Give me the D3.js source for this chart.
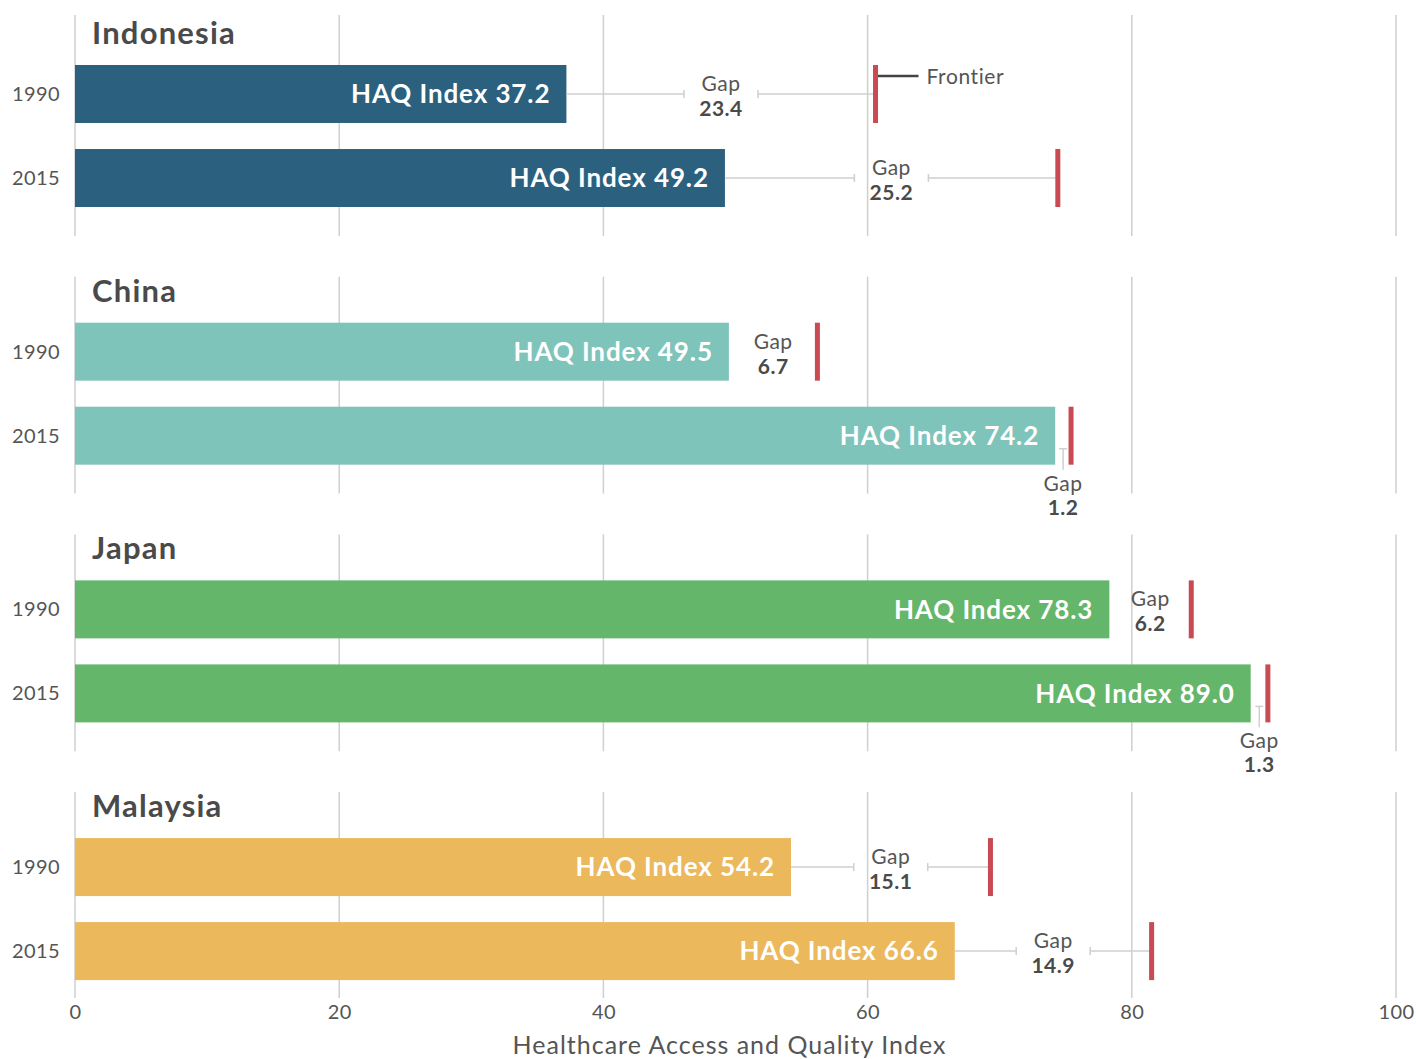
<!DOCTYPE html>
<html>
<head>
<meta charset="utf-8">
<script src="https://cdn.jsdelivr.net/npm/d3@7"></script>
<style>
  html, body { margin: 0; padding: 0; background: #fff; }
  svg { display: block; font-family: Lato, "Open Sans", sans-serif; }
</style>
</head>
<body>
<svg id="chart" width="1416" height="1059"></svg>
<script>
// ---- data ----
const countries = ["Indonesia", "China", "Japan", "Malaysia"];
const years = ["1990", "2015"];
const haq1990 = [37.2, 49.5, 78.3, 54.2];
const haq2015 = [49.2, 74.2, 89.0, 66.6];
const gap1990 = [23.4, 6.7, 6.2, 15.1];
const gap2015 = [25.2, 1.2, 1.3, 14.9];
const countryColors = ["#2b617f", "#7fc4ba", "#64b66a", "#ebb85c"];
const xTicks = [0, 20, 40, 60, 80, 100];
const xTitle = "Healthcare Access and Quality Index";

// ---- layout ----
const svg = d3.select("#chart");
const x = d3.scaleLinear().domain([0, 100]).range([75, 1396]);
const panel = d3.scaleBand().domain(countries).range([15, 1003]).paddingInner(0.166).paddingOuter(0);
const barOffset = 50, barsSpan = 142;
const inner = d3.scaleBand().domain(years).range([barOffset, barOffset + barsSpan]).paddingInner(0.31).paddingOuter(0);
const bh = inner.bandwidth();
const red = "#c94a52", grid = "#cfcfcf", textCol = "#555", darkText = "#4a4a4a";

const rows = [];
countries.forEach((c, i) => {
  rows.push({country: c, year: years[0], haq: haq1990[i], gap: gap1990[i], color: countryColors[i]});
  rows.push({country: c, year: years[1], haq: haq2015[i], gap: gap2015[i], color: countryColors[i]});
});

// panels
const panels = svg.selectAll("g.panel").data(countries).join("g")
  .attr("class", "panel")
  .attr("transform", d => `translate(0,${panel(d)})`);

panels.each(function(c, i) {
  const g = d3.select(this);
  const bottom = panel.bandwidth() + (i === countries.length - 1 ? -5 : 6);
  g.selectAll("line.grid").data(xTicks).join("line")
    .attr("class", "grid")
    .attr("x1", d => x(d)).attr("x2", d => x(d))
    .attr("y1", i === 0 ? 0 : 4).attr("y2", bottom)
    .attr("stroke", grid).attr("stroke-width", 1.5);
  g.append("text")
    .attr("x", 92).attr("y", barOffset - 21)
    .attr("font-size", 31).attr("font-weight", 700).attr("letter-spacing", 1.2)
    .attr("fill", darkText)
    .text(c);
});

// bars & annotations
rows.forEach(r => {
  const g = svg.append("g").attr("transform", `translate(0,${panel(r.country) + inner(r.year)})`);
  const x0 = x(0), x1 = x(r.haq), xf = x(r.haq + r.gap);
  const cy = bh / 2;
  g.append("text")
    .attr("x", 60).attr("y", cy).attr("dy", "0.35em")
    .attr("text-anchor", "end").attr("font-size", 20).attr("letter-spacing", 0.4).attr("fill", textCol)
    .text(r.year);
  g.append("rect").attr("x", x0).attr("y", 0).attr("width", x1 - x0).attr("height", bh).attr("fill", r.color);
  g.append("text")
    .attr("x", x1 - 16).attr("y", cy).attr("dy", "0.36em")
    .attr("text-anchor", "end").attr("font-size", 26).attr("font-weight", 700).attr("letter-spacing", 0.9)
    .attr("fill", "#fff")
    .text("HAQ Index " + r.haq.toFixed(1));

  const gw = xf - x1;
  const mid = (x1 + xf) / 2;
  const gapText = (sel, yy) => sel.append("text").attr("x", mid).attr("y", yy).attr("text-anchor", "middle")
      .attr("font-size", 21).attr("letter-spacing", 0.5).attr("fill", textCol).text("Gap");
  const valText = (sel, yy) => sel.append("text").attr("x", mid).attr("y", yy).attr("text-anchor", "middle")
      .attr("font-size", 21).attr("font-weight", 700).attr("letter-spacing", 0.5).attr("fill", darkText).text(r.gap.toFixed(1));
  if (gw < 40) {
    g.append("line").attr("x1", mid).attr("x2", mid).attr("y1", cy + 13).attr("y2", bh + 5)
      .attr("stroke", grid).attr("stroke-width", 1.5);
    g.append("line").attr("x1", mid - 4).attr("x2", mid + 4).attr("y1", cy + 13).attr("y2", cy + 13)
      .attr("stroke", grid).attr("stroke-width", 1.5);
    gapText(g, bh + 26);
    valText(g, bh + 50);
  } else {
    if (gw > 110) {
      const hw = 37;
      [[x1, mid - hw], [mid + hw, xf]].forEach(([a, b]) => {
        g.append("line").attr("x1", a).attr("x2", b).attr("y1", cy).attr("y2", cy)
          .attr("stroke", grid).attr("stroke-width", 1.5);
      });
      [mid - hw, mid + hw].forEach(p => {
        g.append("line").attr("x1", p).attr("x2", p).attr("y1", cy - 4).attr("y2", cy + 4)
          .attr("stroke", grid).attr("stroke-width", 1.5);
      });
    }
    gapText(g, cy - 3);
    valText(g, cy + 22);
  }
  g.append("rect").attr("x", xf - 2.5).attr("y", 0).attr("width", 5).attr("height", bh).attr("fill", red);

  if (r.country === countries[0] && r.year === years[0]) {
    g.append("line").attr("x1", xf + 2.5).attr("x2", xf + 43).attr("y1", 11).attr("y2", 11)
      .attr("stroke", "#444").attr("stroke-width", 2.5);
    g.append("text").attr("x", xf + 51).attr("y", 12).attr("dy", "0.35em")
      .attr("font-size", 21).attr("letter-spacing", 0.6).attr("fill", textCol).text("Frontier");
  }
});

// axis
const axis = svg.append("g").attr("transform", "translate(0,1000)")
  .call(d3.axisBottom(x).tickValues(xTicks).tickSize(0).tickPadding(5).tickFormat(d3.format("d")));
axis.select(".domain").remove();
axis.selectAll("text").attr("font-size", 20).attr("fill", textCol).attr("letter-spacing", 0.4)
  .attr("font-family", "Lato, sans-serif");

svg.append("text").attr("x", (x(0) + x(100)) / 2 - 6).attr("y", 1054)
  .attr("text-anchor", "middle").attr("font-size", 25).attr("letter-spacing", 1.0).attr("fill", textCol)
  .text(xTitle);
</script>
</body>
</html>
